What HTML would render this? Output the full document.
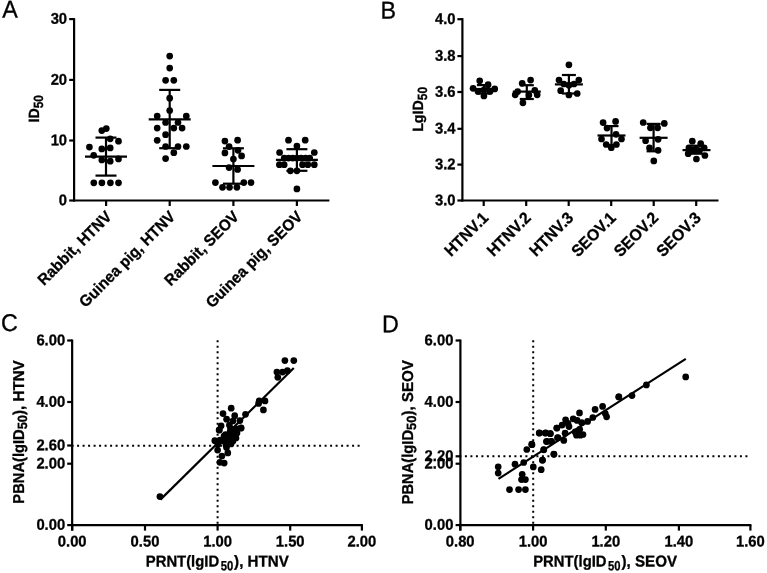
<!DOCTYPE html>
<html><head><meta charset="utf-8"><style>
html,body{margin:0;padding:0;background:#fff;}
svg{display:block;filter:grayscale(1);}
text{font-family:"Liberation Sans", sans-serif;fill:#000;stroke:#000;stroke-width:0.3px;text-rendering:geometricPrecision;}
line{stroke:#000;}
circle{fill:#000;}
</style></head><body>
<svg width="767" height="573" viewBox="0 0 767 573">
<text x="0" y="0" font-size="23.3" font-weight="normal" transform="translate(2.2 17.5) rotate(0.05) scale(1 1.04)">A</text>
<text x="0" y="0" font-size="23.3" font-weight="normal" transform="translate(380.4 18.5) rotate(0.05) scale(1 1.04)">B</text>
<text x="0" y="0" font-size="23.3" font-weight="normal" transform="translate(1.1 331.1) rotate(0.05) scale(1 1.04)">C</text>
<text x="0" y="0" font-size="23.3" font-weight="normal" transform="translate(382.1 332.2) rotate(0.05) scale(1 1.04)">D</text>
<line x1="74.10" y1="18.10" x2="74.10" y2="201.50" stroke-width="2.2"/>
<line x1="73.10" y1="200.50" x2="329.40" y2="200.50" stroke-width="2.2"/>
<line x1="69.20" y1="200.50" x2="74.10" y2="200.50" stroke-width="2.2"/>
<text x="0" y="0" font-size="14.8" text-anchor="end" font-weight="bold" transform="translate(67.10 205.25) rotate(0.05) scale(1 1.05)">0</text>
<line x1="69.20" y1="140.50" x2="74.10" y2="140.50" stroke-width="2.2"/>
<text x="0" y="0" font-size="14.8" text-anchor="end" font-weight="bold" transform="translate(67.10 145.25) rotate(0.05) scale(1 1.05)">10</text>
<line x1="69.20" y1="79.90" x2="74.10" y2="79.90" stroke-width="2.2"/>
<text x="0" y="0" font-size="14.8" text-anchor="end" font-weight="bold" transform="translate(67.10 84.65) rotate(0.05) scale(1 1.05)">20</text>
<line x1="69.20" y1="19.10" x2="74.10" y2="19.10" stroke-width="2.2"/>
<text x="0" y="0" font-size="14.8" text-anchor="end" font-weight="bold" transform="translate(67.10 23.85) rotate(0.05) scale(1 1.05)">30</text>
<line x1="106.10" y1="200.50" x2="106.10" y2="206.00" stroke-width="2.2"/>
<text x="0" y="0" font-size="15.2" font-weight="bold" text-anchor="end" transform="translate(112.65 217.55) rotate(-45) scale(1 1.04)">Rabbit, HTNV</text>
<line x1="169.70" y1="200.50" x2="169.70" y2="206.00" stroke-width="2.2"/>
<text x="0" y="0" font-size="15.2" font-weight="bold" text-anchor="end" transform="translate(176.25 217.55) rotate(-45) scale(1 1.04)">Guinea pig, HTNV</text>
<line x1="233.40" y1="200.50" x2="233.40" y2="206.00" stroke-width="2.2"/>
<text x="0" y="0" font-size="15.2" font-weight="bold" text-anchor="end" transform="translate(239.95 217.55) rotate(-45) scale(1 1.04)">Rabbit, SEOV</text>
<line x1="296.90" y1="200.50" x2="296.90" y2="206.00" stroke-width="2.2"/>
<text x="0" y="0" font-size="15.2" font-weight="bold" text-anchor="end" transform="translate(303.45 217.55) rotate(-45) scale(1 1.04)">Guinea pig, SEOV</text>
<text x="0" y="0" font-size="14.2" font-weight="bold" text-anchor="start" transform="translate(39.10 122.50) rotate(-90) scale(1 1.04)">ID<tspan font-size="12.8" dx="0" dy="3.6" textLength="13.3" lengthAdjust="spacingAndGlyphs">50</tspan></text>
<circle cx="101.80" cy="130.60" r="3.35"/>
<circle cx="106.30" cy="128.60" r="3.35"/>
<circle cx="110.20" cy="138.80" r="3.35"/>
<circle cx="118.50" cy="141.20" r="3.35"/>
<circle cx="89.40" cy="147.10" r="3.35"/>
<circle cx="101.80" cy="148.90" r="3.35"/>
<circle cx="110.20" cy="147.90" r="3.35"/>
<circle cx="93.70" cy="155.30" r="3.35"/>
<circle cx="101.80" cy="160.00" r="3.35"/>
<circle cx="110.20" cy="161.20" r="3.35"/>
<circle cx="118.50" cy="158.90" r="3.35"/>
<circle cx="93.80" cy="182.80" r="3.35"/>
<circle cx="101.90" cy="182.80" r="3.35"/>
<circle cx="110.40" cy="182.80" r="3.35"/>
<circle cx="118.50" cy="182.80" r="3.35"/>
<line x1="106.00" y1="137.60" x2="106.00" y2="175.60" stroke-width="2.2"/>
<line x1="85.00" y1="156.70" x2="127.00" y2="156.70" stroke-width="2.2"/>
<line x1="95.50" y1="137.60" x2="116.50" y2="137.60" stroke-width="2.2"/>
<line x1="95.50" y1="175.60" x2="116.50" y2="175.60" stroke-width="2.2"/>
<circle cx="169.70" cy="56.10" r="3.35"/>
<circle cx="169.70" cy="68.10" r="3.35"/>
<circle cx="165.60" cy="80.30" r="3.35"/>
<circle cx="173.80" cy="80.30" r="3.35"/>
<circle cx="169.70" cy="98.20" r="3.35"/>
<circle cx="169.70" cy="110.50" r="3.35"/>
<circle cx="157.20" cy="116.10" r="3.35"/>
<circle cx="186.30" cy="116.10" r="3.35"/>
<circle cx="165.60" cy="122.50" r="3.35"/>
<circle cx="178.00" cy="122.50" r="3.35"/>
<circle cx="157.20" cy="128.10" r="3.35"/>
<circle cx="173.80" cy="128.10" r="3.35"/>
<circle cx="182.10" cy="128.10" r="3.35"/>
<circle cx="165.60" cy="134.70" r="3.35"/>
<circle cx="157.20" cy="140.30" r="3.35"/>
<circle cx="165.60" cy="146.50" r="3.35"/>
<circle cx="178.00" cy="146.50" r="3.35"/>
<circle cx="186.30" cy="146.50" r="3.35"/>
<circle cx="173.80" cy="152.70" r="3.35"/>
<circle cx="165.60" cy="158.60" r="3.35"/>
<line x1="169.70" y1="89.90" x2="169.70" y2="148.20" stroke-width="2.2"/>
<line x1="148.70" y1="119.40" x2="190.70" y2="119.40" stroke-width="2.2"/>
<line x1="159.20" y1="89.90" x2="180.20" y2="89.90" stroke-width="2.2"/>
<line x1="159.20" y1="148.20" x2="180.20" y2="148.20" stroke-width="2.2"/>
<circle cx="224.90" cy="141.10" r="3.35"/>
<circle cx="237.60" cy="140.20" r="3.35"/>
<circle cx="229.10" cy="146.60" r="3.35"/>
<circle cx="238.00" cy="150.30" r="3.35"/>
<circle cx="224.90" cy="152.90" r="3.35"/>
<circle cx="241.60" cy="155.90" r="3.35"/>
<circle cx="233.40" cy="159.00" r="3.35"/>
<circle cx="229.10" cy="167.60" r="3.35"/>
<circle cx="237.60" cy="169.50" r="3.35"/>
<circle cx="215.40" cy="182.60" r="3.35"/>
<circle cx="243.80" cy="182.60" r="3.35"/>
<circle cx="251.00" cy="182.60" r="3.35"/>
<circle cx="222.50" cy="187.30" r="3.35"/>
<circle cx="229.50" cy="187.30" r="3.35"/>
<circle cx="236.90" cy="187.30" r="3.35"/>
<line x1="233.40" y1="148.30" x2="233.40" y2="183.70" stroke-width="2.2"/>
<line x1="212.40" y1="166.00" x2="254.40" y2="166.00" stroke-width="2.2"/>
<line x1="222.90" y1="148.30" x2="243.90" y2="148.30" stroke-width="2.2"/>
<line x1="222.90" y1="183.70" x2="243.90" y2="183.70" stroke-width="2.2"/>
<circle cx="288.50" cy="140.20" r="3.35"/>
<circle cx="305.20" cy="140.20" r="3.35"/>
<circle cx="296.90" cy="146.10" r="3.35"/>
<circle cx="279.60" cy="152.50" r="3.35"/>
<circle cx="314.30" cy="152.50" r="3.35"/>
<circle cx="284.20" cy="158.10" r="3.35"/>
<circle cx="288.50" cy="158.10" r="3.35"/>
<circle cx="292.70" cy="158.10" r="3.35"/>
<circle cx="296.90" cy="158.10" r="3.35"/>
<circle cx="301.20" cy="158.10" r="3.35"/>
<circle cx="305.50" cy="158.10" r="3.35"/>
<circle cx="309.70" cy="158.10" r="3.35"/>
<circle cx="279.40" cy="164.70" r="3.35"/>
<circle cx="284.20" cy="164.70" r="3.35"/>
<circle cx="302.50" cy="164.70" r="3.35"/>
<circle cx="307.80" cy="164.70" r="3.35"/>
<circle cx="314.30" cy="164.70" r="3.35"/>
<circle cx="290.40" cy="170.80" r="3.35"/>
<circle cx="296.90" cy="170.80" r="3.35"/>
<circle cx="296.90" cy="188.90" r="3.35"/>
<line x1="296.90" y1="149.20" x2="296.90" y2="170.80" stroke-width="2.2"/>
<line x1="275.90" y1="159.80" x2="317.90" y2="159.80" stroke-width="2.2"/>
<line x1="286.40" y1="149.20" x2="307.40" y2="149.20" stroke-width="2.2"/>
<line x1="286.40" y1="170.80" x2="307.40" y2="170.80" stroke-width="2.2"/>
<line x1="462.40" y1="18.10" x2="462.40" y2="201.50" stroke-width="2.2"/>
<line x1="461.40" y1="200.50" x2="718.50" y2="200.50" stroke-width="2.2"/>
<line x1="457.40" y1="200.50" x2="462.40" y2="200.50" stroke-width="2.2"/>
<text x="0" y="0" font-size="14.8" text-anchor="end" font-weight="bold" transform="translate(455.60 205.25) rotate(0.05) scale(1 1.05)">3.0</text>
<line x1="457.40" y1="164.60" x2="462.40" y2="164.60" stroke-width="2.2"/>
<text x="0" y="0" font-size="14.8" text-anchor="end" font-weight="bold" transform="translate(455.60 169.35) rotate(0.05) scale(1 1.05)">3.2</text>
<line x1="457.40" y1="128.80" x2="462.40" y2="128.80" stroke-width="2.2"/>
<text x="0" y="0" font-size="14.8" text-anchor="end" font-weight="bold" transform="translate(455.60 133.55) rotate(0.05) scale(1 1.05)">3.4</text>
<line x1="457.40" y1="92.00" x2="462.40" y2="92.00" stroke-width="2.2"/>
<text x="0" y="0" font-size="14.8" text-anchor="end" font-weight="bold" transform="translate(455.60 96.75) rotate(0.05) scale(1 1.05)">3.6</text>
<line x1="457.40" y1="56.10" x2="462.40" y2="56.10" stroke-width="2.2"/>
<text x="0" y="0" font-size="14.8" text-anchor="end" font-weight="bold" transform="translate(455.60 60.85) rotate(0.05) scale(1 1.05)">3.8</text>
<line x1="457.40" y1="19.20" x2="462.40" y2="19.20" stroke-width="2.2"/>
<text x="0" y="0" font-size="14.8" text-anchor="end" font-weight="bold" transform="translate(455.60 23.95) rotate(0.05) scale(1 1.05)">4.0</text>
<line x1="483.70" y1="200.50" x2="483.70" y2="206.00" stroke-width="2.2"/>
<text x="0" y="0" font-size="15.7" font-weight="bold" text-anchor="end" transform="translate(489.45 218.80) rotate(-45) scale(1 1.04)">HTNV.1</text>
<line x1="526.20" y1="200.50" x2="526.20" y2="206.00" stroke-width="2.2"/>
<text x="0" y="0" font-size="15.7" font-weight="bold" text-anchor="end" transform="translate(531.95 218.80) rotate(-45) scale(1 1.04)">HTNV.2</text>
<line x1="568.70" y1="200.50" x2="568.70" y2="206.00" stroke-width="2.2"/>
<text x="0" y="0" font-size="15.7" font-weight="bold" text-anchor="end" transform="translate(574.45 218.80) rotate(-45) scale(1 1.04)">HTNV.3</text>
<line x1="611.20" y1="200.50" x2="611.20" y2="206.00" stroke-width="2.2"/>
<text x="0" y="0" font-size="15.7" font-weight="bold" text-anchor="end" transform="translate(616.95 218.80) rotate(-45) scale(1 1.04)">SEOV.1</text>
<line x1="653.70" y1="200.50" x2="653.70" y2="206.00" stroke-width="2.2"/>
<text x="0" y="0" font-size="15.7" font-weight="bold" text-anchor="end" transform="translate(659.45 218.80) rotate(-45) scale(1 1.04)">SEOV.2</text>
<line x1="696.20" y1="200.50" x2="696.20" y2="206.00" stroke-width="2.2"/>
<text x="0" y="0" font-size="15.7" font-weight="bold" text-anchor="end" transform="translate(701.95 218.80) rotate(-45) scale(1 1.04)">SEOV.3</text>
<text x="0" y="0" font-size="14.2" font-weight="bold" text-anchor="start" transform="translate(423.00 131.80) rotate(-90) scale(1 1.04)">LgID<tspan font-size="12.8" dx="0" dy="3.6" textLength="13.3" lengthAdjust="spacingAndGlyphs">50</tspan></text>
<circle cx="479.70" cy="80.80" r="3.35"/>
<circle cx="488.10" cy="84.70" r="3.35"/>
<circle cx="473.10" cy="88.30" r="3.35"/>
<circle cx="494.70" cy="88.90" r="3.35"/>
<circle cx="478.00" cy="91.50" r="3.35"/>
<circle cx="490.00" cy="91.50" r="3.35"/>
<circle cx="483.90" cy="96.00" r="3.35"/>
<circle cx="483.90" cy="90.00" r="3.35"/>
<line x1="483.90" y1="85.10" x2="483.90" y2="93.50" stroke-width="2.2"/>
<line x1="469.90" y1="89.00" x2="497.90" y2="89.00" stroke-width="2.2"/>
<line x1="476.90" y1="85.10" x2="490.90" y2="85.10" stroke-width="2.2"/>
<line x1="476.90" y1="93.50" x2="490.90" y2="93.50" stroke-width="2.2"/>
<circle cx="530.60" cy="80.10" r="3.35"/>
<circle cx="522.20" cy="83.30" r="3.35"/>
<circle cx="517.70" cy="91.60" r="3.35"/>
<circle cx="515.20" cy="94.80" r="3.35"/>
<circle cx="534.80" cy="90.30" r="3.35"/>
<circle cx="537.20" cy="94.80" r="3.35"/>
<circle cx="528.90" cy="95.10" r="3.35"/>
<circle cx="522.90" cy="102.80" r="3.35"/>
<line x1="526.80" y1="85.20" x2="526.80" y2="99.00" stroke-width="2.2"/>
<line x1="512.80" y1="91.60" x2="540.80" y2="91.60" stroke-width="2.2"/>
<line x1="519.80" y1="85.20" x2="533.80" y2="85.20" stroke-width="2.2"/>
<line x1="519.80" y1="99.00" x2="533.80" y2="99.00" stroke-width="2.2"/>
<circle cx="568.90" cy="64.80" r="3.35"/>
<circle cx="559.00" cy="80.10" r="3.35"/>
<circle cx="578.80" cy="80.10" r="3.35"/>
<circle cx="563.80" cy="84.00" r="3.35"/>
<circle cx="574.00" cy="84.00" r="3.35"/>
<circle cx="568.90" cy="85.20" r="3.35"/>
<circle cx="560.70" cy="90.70" r="3.35"/>
<circle cx="577.20" cy="93.50" r="3.35"/>
<circle cx="568.90" cy="95.00" r="3.35"/>
<line x1="568.90" y1="75.00" x2="568.90" y2="93.50" stroke-width="2.2"/>
<line x1="554.90" y1="84.40" x2="582.90" y2="84.40" stroke-width="2.2"/>
<line x1="561.90" y1="75.00" x2="575.90" y2="75.00" stroke-width="2.2"/>
<line x1="561.90" y1="93.50" x2="575.90" y2="93.50" stroke-width="2.2"/>
<circle cx="603.10" cy="122.60" r="3.35"/>
<circle cx="615.60" cy="121.40" r="3.35"/>
<circle cx="607.00" cy="128.10" r="3.35"/>
<circle cx="616.00" cy="134.30" r="3.35"/>
<circle cx="601.50" cy="139.00" r="3.35"/>
<circle cx="621.50" cy="139.00" r="3.35"/>
<circle cx="606.20" cy="144.50" r="3.35"/>
<circle cx="616.40" cy="144.50" r="3.35"/>
<circle cx="611.30" cy="147.70" r="3.35"/>
<line x1="611.50" y1="126.10" x2="611.50" y2="145.00" stroke-width="2.2"/>
<line x1="597.50" y1="135.50" x2="625.50" y2="135.50" stroke-width="2.2"/>
<line x1="604.50" y1="126.10" x2="618.50" y2="126.10" stroke-width="2.2"/>
<line x1="604.50" y1="145.00" x2="618.50" y2="145.00" stroke-width="2.2"/>
<circle cx="643.20" cy="122.50" r="3.35"/>
<circle cx="664.30" cy="123.40" r="3.35"/>
<circle cx="650.40" cy="127.80" r="3.35"/>
<circle cx="657.60" cy="127.80" r="3.35"/>
<circle cx="645.60" cy="140.70" r="3.35"/>
<circle cx="658.10" cy="139.30" r="3.35"/>
<circle cx="649.50" cy="147.90" r="3.35"/>
<circle cx="658.10" cy="150.30" r="3.35"/>
<circle cx="653.80" cy="160.90" r="3.35"/>
<line x1="653.60" y1="123.90" x2="653.60" y2="151.30" stroke-width="2.2"/>
<line x1="639.60" y1="137.80" x2="667.60" y2="137.80" stroke-width="2.2"/>
<line x1="646.60" y1="123.90" x2="660.60" y2="123.90" stroke-width="2.2"/>
<line x1="646.60" y1="151.30" x2="660.60" y2="151.30" stroke-width="2.2"/>
<circle cx="692.30" cy="141.20" r="3.35"/>
<circle cx="700.70" cy="143.60" r="3.35"/>
<circle cx="688.90" cy="147.80" r="3.35"/>
<circle cx="704.20" cy="147.80" r="3.35"/>
<circle cx="696.00" cy="149.00" r="3.35"/>
<circle cx="693.50" cy="150.20" r="3.35"/>
<circle cx="699.50" cy="150.60" r="3.35"/>
<circle cx="688.20" cy="153.70" r="3.35"/>
<circle cx="704.90" cy="155.50" r="3.35"/>
<circle cx="696.40" cy="159.00" r="3.35"/>
<line x1="696.50" y1="145.70" x2="696.50" y2="153.70" stroke-width="2.2"/>
<line x1="682.50" y1="150.10" x2="710.50" y2="150.10" stroke-width="2.2"/>
<line x1="689.50" y1="145.70" x2="703.50" y2="145.70" stroke-width="2.2"/>
<line x1="689.50" y1="153.70" x2="703.50" y2="153.70" stroke-width="2.2"/>
<line x1="72.15" y1="339.50" x2="72.15" y2="530.60" stroke-width="2.2"/>
<line x1="71.15" y1="525.10" x2="362.90" y2="525.10" stroke-width="2.2"/>
<line x1="67.20" y1="525.10" x2="72.15" y2="525.10" stroke-width="2.2"/>
<text x="0" y="0" font-size="14.8" text-anchor="end" font-weight="bold" transform="translate(65.20 529.85) rotate(0.05) scale(1 1.05)">0.00</text>
<line x1="67.20" y1="463.70" x2="72.15" y2="463.70" stroke-width="2.2"/>
<text x="0" y="0" font-size="14.8" text-anchor="end" font-weight="bold" transform="translate(65.20 468.45) rotate(0.05) scale(1 1.05)">2.00</text>
<line x1="67.20" y1="445.50" x2="72.15" y2="445.50" stroke-width="2.2"/>
<text x="0" y="0" font-size="14.8" text-anchor="end" font-weight="bold" transform="translate(65.20 450.25) rotate(0.05) scale(1 1.05)">2.60</text>
<line x1="67.20" y1="402.00" x2="72.15" y2="402.00" stroke-width="2.2"/>
<text x="0" y="0" font-size="14.8" text-anchor="end" font-weight="bold" transform="translate(65.20 406.75) rotate(0.05) scale(1 1.05)">4.00</text>
<line x1="67.20" y1="340.50" x2="72.15" y2="340.50" stroke-width="2.2"/>
<text x="0" y="0" font-size="14.8" text-anchor="end" font-weight="bold" transform="translate(65.20 345.25) rotate(0.05) scale(1 1.05)">6.00</text>
<line x1="72.20" y1="525.10" x2="72.20" y2="530.60" stroke-width="2.2"/>
<text x="0" y="0" font-size="14.8" text-anchor="middle" font-weight="bold" transform="translate(72.20 546.60) rotate(0.05) scale(1 1.05)">0.00</text>
<line x1="145.00" y1="525.10" x2="145.00" y2="530.60" stroke-width="2.2"/>
<text x="0" y="0" font-size="14.8" text-anchor="middle" font-weight="bold" transform="translate(145.00 546.60) rotate(0.05) scale(1 1.05)">0.50</text>
<line x1="217.60" y1="525.10" x2="217.60" y2="530.60" stroke-width="2.2"/>
<text x="0" y="0" font-size="14.8" text-anchor="middle" font-weight="bold" transform="translate(217.60 546.60) rotate(0.05) scale(1 1.05)">1.00</text>
<line x1="290.20" y1="525.10" x2="290.20" y2="530.60" stroke-width="2.2"/>
<text x="0" y="0" font-size="14.8" text-anchor="middle" font-weight="bold" transform="translate(290.20 546.60) rotate(0.05) scale(1 1.05)">1.50</text>
<line x1="361.90" y1="525.10" x2="361.90" y2="530.60" stroke-width="2.2"/>
<text x="0" y="0" font-size="14.8" text-anchor="middle" font-weight="bold" transform="translate(361.90 546.60) rotate(0.05) scale(1 1.05)">2.00</text>
<line x1="71.6" y1="445.85" x2="361.90" y2="445.85" stroke-width="2" stroke-dasharray="2 3.5"/>
<line x1="217.6" y1="340.2" x2="217.6" y2="524.10" stroke-width="2" stroke-dasharray="2 3.5"/>
<line x1="160.40" y1="499.60" x2="293.80" y2="368.00" stroke-width="2.2"/>
<circle cx="159.90" cy="496.60" r="3.35"/>
<circle cx="284.90" cy="360.60" r="3.35"/>
<circle cx="293.80" cy="360.60" r="3.35"/>
<circle cx="276.90" cy="372.10" r="3.35"/>
<circle cx="282.60" cy="372.10" r="3.35"/>
<circle cx="287.40" cy="370.70" r="3.35"/>
<circle cx="277.80" cy="377.30" r="3.35"/>
<circle cx="259.20" cy="400.90" r="3.35"/>
<circle cx="265.00" cy="400.90" r="3.35"/>
<circle cx="258.60" cy="403.40" r="3.35"/>
<circle cx="263.40" cy="409.90" r="3.35"/>
<circle cx="231.20" cy="408.20" r="3.35"/>
<circle cx="223.00" cy="413.60" r="3.35"/>
<circle cx="234.70" cy="415.70" r="3.35"/>
<circle cx="245.50" cy="414.30" r="3.35"/>
<circle cx="226.60" cy="419.20" r="3.35"/>
<circle cx="232.90" cy="421.00" r="3.35"/>
<circle cx="239.90" cy="420.60" r="3.35"/>
<circle cx="221.10" cy="425.80" r="3.35"/>
<circle cx="229.40" cy="425.10" r="3.35"/>
<circle cx="241.00" cy="427.90" r="3.35"/>
<circle cx="219.30" cy="430.00" r="3.35"/>
<circle cx="219.10" cy="430.10" r="3.35"/>
<circle cx="241.10" cy="428.10" r="3.35"/>
<circle cx="214.80" cy="440.70" r="3.35"/>
<circle cx="217.60" cy="450.10" r="3.35"/>
<circle cx="227.80" cy="452.90" r="3.35"/>
<circle cx="221.90" cy="456.00" r="3.35"/>
<circle cx="219.90" cy="462.30" r="3.35"/>
<circle cx="224.20" cy="463.10" r="3.35"/>
<circle cx="225.50" cy="434.50" r="3.35"/>
<circle cx="230.50" cy="428.50" r="3.35"/>
<circle cx="235.00" cy="431.00" r="3.35"/>
<circle cx="230.00" cy="432.00" r="3.35"/>
<circle cx="236.20" cy="428.80" r="3.35"/>
<circle cx="224.00" cy="436.00" r="3.35"/>
<circle cx="229.00" cy="436.00" r="3.35"/>
<circle cx="234.00" cy="436.00" r="3.35"/>
<circle cx="223.00" cy="441.00" r="3.35"/>
<circle cx="228.00" cy="441.00" r="3.35"/>
<circle cx="233.00" cy="441.00" r="3.35"/>
<circle cx="236.00" cy="438.00" r="3.35"/>
<circle cx="226.00" cy="445.00" r="3.35"/>
<circle cx="231.00" cy="444.00" r="3.35"/>
<circle cx="237.00" cy="433.00" r="3.35"/>
<circle cx="220.00" cy="440.00" r="3.35"/>
<circle cx="218.00" cy="444.00" r="3.35"/>
<circle cx="226.50" cy="447.50" r="3.35"/>
<text x="0" y="0" font-size="15.15" font-weight="bold" text-anchor="start" transform="translate(23.60 503.65) rotate(-90) scale(1 1.04)"><tspan textLength="74.3" lengthAdjust="spacingAndGlyphs">PBNA(lgID</tspan><tspan font-size="12.8" dx="0" dy="3.5" textLength="14.4" lengthAdjust="spacingAndGlyphs">50</tspan><tspan dx="0" dy="-3.5">), HTNV</tspan></text>
<text x="0" y="0" font-size="15.15" font-weight="bold" text-anchor="start" transform="translate(145.80 566.50) rotate(0.05) scale(1 1.04)"><tspan textLength="73.35" lengthAdjust="spacingAndGlyphs">PRNT(lgID</tspan><tspan font-size="12.8" dx="1.55" dy="3.5" textLength="12.5" lengthAdjust="spacingAndGlyphs">50</tspan><tspan dx="0.9" dy="-3.5">), HTNV</tspan></text>
<line x1="460.40" y1="339.50" x2="460.40" y2="530.60" stroke-width="2.2"/>
<line x1="459.40" y1="525.10" x2="751.40" y2="525.10" stroke-width="2.2"/>
<line x1="455.60" y1="525.10" x2="460.40" y2="525.10" stroke-width="2.2"/>
<text x="0" y="0" font-size="14.8" text-anchor="end" font-weight="bold" transform="translate(453.40 529.85) rotate(0.05) scale(1 1.05)">0.00</text>
<line x1="455.60" y1="463.70" x2="460.40" y2="463.70" stroke-width="2.2"/>
<text x="0" y="0" font-size="14.8" text-anchor="end" font-weight="bold" transform="translate(453.40 468.45) rotate(0.05) scale(1 1.05)">2.00</text>
<line x1="455.60" y1="456.30" x2="460.40" y2="456.30" stroke-width="2.2"/>
<text x="0" y="0" font-size="14.8" text-anchor="end" font-weight="bold" transform="translate(453.40 461.05) rotate(0.05) scale(1 1.05)">2.20</text>
<line x1="455.60" y1="402.00" x2="460.40" y2="402.00" stroke-width="2.2"/>
<text x="0" y="0" font-size="14.8" text-anchor="end" font-weight="bold" transform="translate(453.40 406.75) rotate(0.05) scale(1 1.05)">4.00</text>
<line x1="455.60" y1="340.50" x2="460.40" y2="340.50" stroke-width="2.2"/>
<text x="0" y="0" font-size="14.8" text-anchor="end" font-weight="bold" transform="translate(453.40 345.25) rotate(0.05) scale(1 1.05)">6.00</text>
<line x1="460.20" y1="525.10" x2="460.20" y2="530.60" stroke-width="2.2"/>
<text x="0" y="0" font-size="14.8" text-anchor="middle" font-weight="bold" transform="translate(460.20 546.60) rotate(0.05) scale(1 1.05)">0.80</text>
<line x1="533.10" y1="525.10" x2="533.10" y2="530.60" stroke-width="2.2"/>
<text x="0" y="0" font-size="14.8" text-anchor="middle" font-weight="bold" transform="translate(533.10 546.60) rotate(0.05) scale(1 1.05)">1.00</text>
<line x1="605.80" y1="525.10" x2="605.80" y2="530.60" stroke-width="2.2"/>
<text x="0" y="0" font-size="14.8" text-anchor="middle" font-weight="bold" transform="translate(605.80 546.60) rotate(0.05) scale(1 1.05)">1.20</text>
<line x1="678.90" y1="525.10" x2="678.90" y2="530.60" stroke-width="2.2"/>
<text x="0" y="0" font-size="14.8" text-anchor="middle" font-weight="bold" transform="translate(678.90 546.60) rotate(0.05) scale(1 1.05)">1.40</text>
<line x1="750.40" y1="525.10" x2="750.40" y2="530.60" stroke-width="2.2"/>
<text x="0" y="0" font-size="14.8" text-anchor="middle" font-weight="bold" transform="translate(750.40 546.60) rotate(0.05) scale(1 1.05)">1.60</text>
<line x1="459.4" y1="456.3" x2="750.40" y2="456.3" stroke-width="2" stroke-dasharray="2 3.5"/>
<line x1="533.2" y1="340.2" x2="533.2" y2="524.10" stroke-width="2" stroke-dasharray="2 3.5"/>
<circle cx="498.20" cy="466.80" r="3.35"/>
<circle cx="498.20" cy="473.10" r="3.35"/>
<circle cx="515.00" cy="464.20" r="3.35"/>
<circle cx="523.70" cy="462.50" r="3.35"/>
<circle cx="526.80" cy="449.50" r="3.35"/>
<circle cx="531.70" cy="444.20" r="3.35"/>
<circle cx="533.30" cy="466.90" r="3.35"/>
<circle cx="522.20" cy="474.30" r="3.35"/>
<circle cx="521.50" cy="479.60" r="3.35"/>
<circle cx="525.40" cy="479.60" r="3.35"/>
<circle cx="509.50" cy="489.60" r="3.35"/>
<circle cx="518.60" cy="489.60" r="3.35"/>
<circle cx="525.40" cy="489.60" r="3.35"/>
<circle cx="539.20" cy="433.10" r="3.35"/>
<circle cx="545.10" cy="433.10" r="3.35"/>
<circle cx="550.30" cy="433.70" r="3.35"/>
<circle cx="556.90" cy="428.10" r="3.35"/>
<circle cx="546.40" cy="441.60" r="3.35"/>
<circle cx="551.00" cy="441.60" r="3.35"/>
<circle cx="557.50" cy="437.70" r="3.35"/>
<circle cx="543.80" cy="449.80" r="3.35"/>
<circle cx="554.00" cy="454.30" r="3.35"/>
<circle cx="542.50" cy="460.30" r="3.35"/>
<circle cx="541.20" cy="469.70" r="3.35"/>
<circle cx="532.00" cy="444.70" r="3.35"/>
<circle cx="539.40" cy="432.90" r="3.35"/>
<circle cx="545.70" cy="432.90" r="3.35"/>
<circle cx="550.30" cy="433.50" r="3.35"/>
<circle cx="547.00" cy="441.30" r="3.35"/>
<circle cx="551.60" cy="441.30" r="3.35"/>
<circle cx="543.70" cy="449.60" r="3.35"/>
<circle cx="542.40" cy="460.00" r="3.35"/>
<circle cx="553.80" cy="454.10" r="3.35"/>
<circle cx="556.80" cy="428.00" r="3.35"/>
<circle cx="558.10" cy="437.80" r="3.35"/>
<circle cx="562.10" cy="425.10" r="3.35"/>
<circle cx="563.80" cy="440.40" r="3.35"/>
<circle cx="565.60" cy="419.80" r="3.35"/>
<circle cx="565.10" cy="433.20" r="3.35"/>
<circle cx="569.00" cy="426.60" r="3.35"/>
<circle cx="568.00" cy="423.40" r="3.35"/>
<circle cx="573.20" cy="418.80" r="3.35"/>
<circle cx="575.20" cy="431.90" r="3.35"/>
<circle cx="576.50" cy="435.20" r="3.35"/>
<circle cx="579.70" cy="429.30" r="3.35"/>
<circle cx="580.40" cy="435.20" r="3.35"/>
<circle cx="583.00" cy="434.50" r="3.35"/>
<circle cx="577.10" cy="420.40" r="3.35"/>
<circle cx="579.50" cy="412.90" r="3.35"/>
<circle cx="581.70" cy="422.70" r="3.35"/>
<circle cx="587.60" cy="421.40" r="3.35"/>
<circle cx="592.80" cy="417.50" r="3.35"/>
<circle cx="595.10" cy="409.40" r="3.35"/>
<circle cx="602.60" cy="406.40" r="3.35"/>
<circle cx="605.30" cy="413.60" r="3.35"/>
<circle cx="606.60" cy="416.80" r="3.35"/>
<circle cx="618.70" cy="396.80" r="3.35"/>
<circle cx="618.90" cy="396.90" r="3.35"/>
<circle cx="632.00" cy="395.60" r="3.35"/>
<circle cx="646.40" cy="384.90" r="3.35"/>
<circle cx="685.70" cy="376.90" r="3.35"/>
<line x1="498.50" y1="478.90" x2="685.80" y2="358.90" stroke-width="2.2"/>
<text x="0" y="0" font-size="15.15" font-weight="bold" text-anchor="start" transform="translate(412.60 504.30) rotate(-90) scale(1 1.04)"><tspan textLength="74.3" lengthAdjust="spacingAndGlyphs">PBNA(lgID</tspan><tspan font-size="12.8" dx="0" dy="3.5" textLength="14.4" lengthAdjust="spacingAndGlyphs">50</tspan><tspan dx="0" dy="-3.5">), SEOV</tspan></text>
<text x="0" y="0" font-size="15.15" font-weight="bold" text-anchor="start" transform="translate(533.20 566.50) rotate(0.05) scale(1 1.04)"><tspan textLength="73.35" lengthAdjust="spacingAndGlyphs">PRNT(lgID</tspan><tspan font-size="12.8" dx="1.55" dy="3.5" textLength="12.5" lengthAdjust="spacingAndGlyphs">50</tspan><tspan dx="0.9" dy="-3.5">), SEOV</tspan></text>
</svg>
</body></html>
